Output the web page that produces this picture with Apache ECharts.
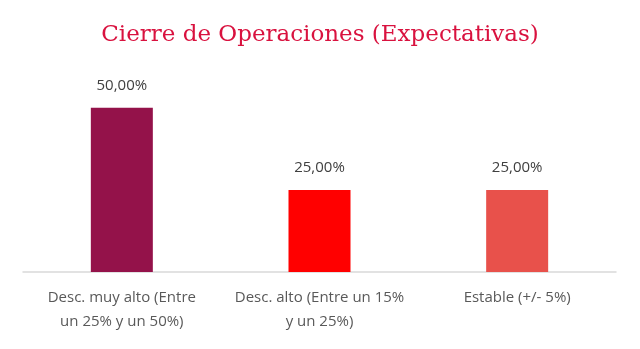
<!DOCTYPE html>
<html>
<head>
<meta charset="utf-8">
<script src="https://cdn.jsdelivr.net/npm/echarts@6/dist/echarts.min.js"></script>
<style>
  html, body { margin: 0; padding: 0; background: #ffffff; }
  #chart { width: 640px; height: 349px; }
</style>
</head>
<body>
<div id="chart"></div>
<script>
// Closing of operations: expected discount ranges
const categories = [
  'Desc. muy alto (Entre\nun 25% y un 50%)',
  'Desc. alto (Entre un 15%\ny un 25%)',
  'Estable (+/- 5%)'
];
const shares = [0.50, 0.25, 0.25];
const barColors = ['#94124A', '#FF0000', '#E8514B'];

const chart = echarts.init(document.getElementById('chart'), null, { renderer: 'canvas' });

function pct(v) {
  return (v * 100).toFixed(2).replace('.', ',') + '%';
}

chart.setOption({
  animation: false,
  backgroundColor: '#ffffff',
  title: {
    text: 'Cierre de Operaciones (Expectativas)',
    left: 'center',
    top: 19,
    textStyle: {
      fontFamily: '"DejaVu Serif", "Liberation Serif", serif',
      fontSize: 23,
      fontWeight: 'normal',
      color: '#D9123F'
    }
  },
  grid: { left: 23, right: 24, top: 75, bottom: 77, containLabel: false },
  xAxis: {
    type: 'category',
    data: categories,
    axisLine: { lineStyle: { color: '#D9D9D9', width: 1.5 } },
    axisTick: { show: false },
    axisLabel: {
      interval: 0,
      margin: 14,
      color: '#595959',
      fontFamily: '"Open Sans", "Noto Sans", sans-serif',
      fontSize: 15,
      lineHeight: 24
    }
  },
  yAxis: {
    type: 'value',
    min: 0,
    max: 0.6,
    show: false,
    splitLine: { show: false }
  },
  series: [{
    type: 'bar',
    barWidth: 62,
    data: shares.map((v, i) => ({ value: v, itemStyle: { color: barColors[i] } })),
    label: {
      show: true,
      position: 'top',
      distance: 15,
      color: '#404040',
      fontFamily: '"Open Sans", "Noto Sans", sans-serif',
      fontSize: 15,
      formatter: p => pct(p.value)
    }
  }]
});
</script>
</body>
</html>
